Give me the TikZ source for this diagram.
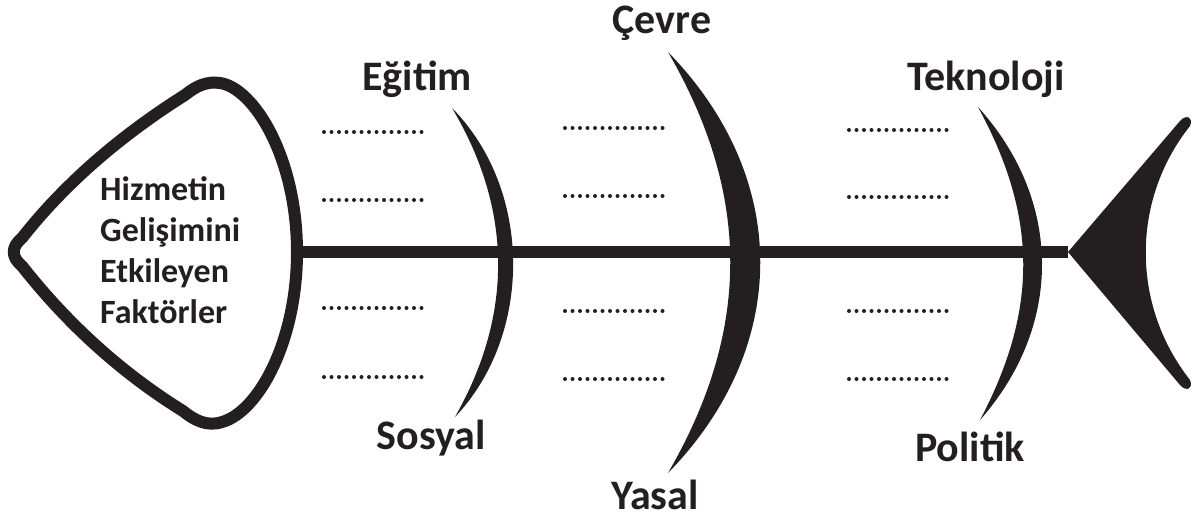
\documentclass[tikz,border=0pt]{standalone}
\usepackage{fontspec}
\setmainfont{Carlito}
\definecolor{ink}{HTML}{231F20}
\tikzset{
  outline/.style={draw=ink, line width=12pt, line join=round},
  spineline/.style={draw=ink, line width=12pt},
  bonefill/.style={fill=ink},
  dotrow/.style={draw=ink, line width=4pt, line cap=round, dash pattern=on 0pt off 7.5pt},
  lbl/.style={text=ink, font=\fontsize{42}{42}\selectfont\bfseries, inner sep=0pt, anchor=base},
  headtxt/.style={text=ink, font=\fontsize{34}{41}\selectfont\bfseries, inner sep=0pt, align=left, anchor=west}
}
\begin{document}
\begin{tikzpicture}[x=1pt,y=-1pt]
\useasboundingbox (0,0) rectangle (1191,519);
% head
\draw[outline] (297,252) .. controls (297,158) and (254,88) .. (220,83)
  .. controls (207,81) and (196,86) .. (185,95)
  .. controls (123,134) and (66,182) .. (22,238)
  .. controls (11,247) and (11,257) .. (22,266)
  .. controls (66,322) and (120,372) .. (183,411)
  .. controls (194,420) and (207,427) .. (222,422)
  .. controls (258,412) and (297,342) .. (297,252) -- cycle;
\coordinate (headR) at (297,252);
\coordinate (tailT) at (1068,252);
\node[headtxt] (headtext) at (100,250) {Hizmetin\\Gelişimini\\Etkileyen\\Faktörler};
% spine
\draw[spineline] (headR) -- (tailT);
% tail
\fill[bonefill] (tailT) -- (1180,121) .. controls (1186,114) and (1194,117) .. (1190,126)
  .. controls (1131,200) and (1131,305) .. (1190,380)
  .. controls (1194,389) and (1186,392) .. (1180,385) -- cycle;
% bones
\fill[bonefill] (452,108) .. controls (533,190) and (533,335) .. (455,417)
  .. controls (513,315) and (513,210) .. (452,108) -- cycle;
\fill[bonefill] (668,52) .. controls (791,178) and (791,347) .. (668,473)
  .. controls (751,330) and (751,195) .. (668,52) -- cycle;
\fill[bonefill] (978,107) .. controls (1063,201) and (1063,326) .. (980,420)
  .. controls (1038,310) and (1038,217) .. (978,107) -- cycle;
% dotted rows
\foreach \y in {132,200,308,377} \draw[dotrow] (324,\y) -- (428,\y);
\foreach \y in {128,196,311,379} \draw[dotrow] (565,\y) -- (666,\y);
\foreach \y in {130,197,311,379} \draw[dotrow] (849,\y) -- (951,\y);
% labels
\node[lbl] (egitim) at (417,90) {Eğitim};
\node[lbl] (sosyal) at (431,449) {Sosyal};
\node[lbl] (cevre) at (662,34) {Çevre};
\node[lbl] (yasal) at (655,509) {Yasal};
\node[lbl] (teknoloji) at (986,90) {Teknoloji};
\node[lbl] (politik) at (970,461) {Politik};
\end{tikzpicture}
\end{document}
